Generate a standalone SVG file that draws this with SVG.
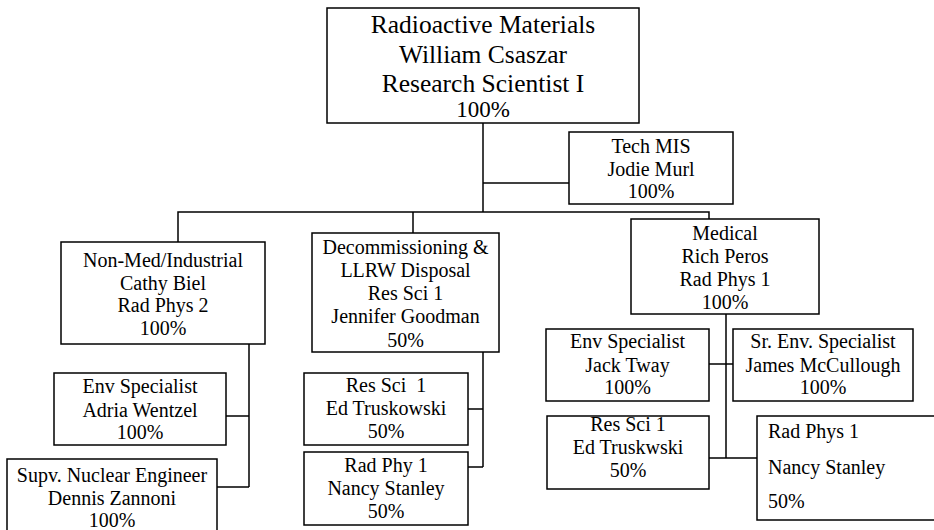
<svg xmlns="http://www.w3.org/2000/svg" width="934" height="530" viewBox="0 0 934 530">
<style>
.box{fill:#fff;stroke:#000;stroke-width:1.5}
.ln{fill:none;stroke:#000;stroke-width:1.5}
text{font-family:"Liberation Serif","Times New Roman",serif;font-size:20px;fill:#000;text-anchor:middle}
.big{font-size:25.5px}
.l{text-anchor:start}
</style>
<rect width="934" height="530" fill="#fff"/>
<g id="connectors" class="ln">
<path d="M483,123V212"/>
<path d="M483,183H569"/>
<path d="M178,242V212H709V219"/>
<path d="M413,212V233"/>
<path d="M249,344V487M226,416H249M217,487H249"/>
<path d="M483,352V467M468,409H483M468,467H483"/>
<path d="M726,314V458M709,364H733M709,458H757"/>
</g>
<g id="n-top">
<rect class="box" x="327" y="8" width="312" height="115"/>
<text class="big" x="483" y="33">Radioactive Materials</text>
<text class="big" x="483" y="63">William Csaszar</text>
<text class="big" x="483" y="92">Research Scientist I</text>
<text x="483" y="117" style="font-size:23px">100%</text>
</g>
<g id="n-techmis">
<rect class="box" x="569" y="132" width="164" height="72"/>
<text x="651" y="153">Tech MIS</text>
<text x="651" y="176">Jodie Murl</text>
<text x="651" y="198">100%</text>
</g>
<g id="n-nonmed">
<rect class="box" x="61" y="242" width="204" height="102"/>
<text x="163" y="267">Non-Med/Industrial</text>
<text x="163" y="290">Cathy Biel</text>
<text x="163" y="312">Rad Phys 2</text>
<text x="163" y="335">100%</text>
</g>
<g id="n-adria">
<rect class="box" x="54" y="373" width="172" height="72"/>
<text x="140" y="393">Env Specialist</text>
<text x="140" y="417">Adria Wentzel</text>
<text x="140" y="439">100%</text>
</g>
<g id="n-dennis">
<rect class="box" x="7" y="459" width="210" height="80"/>
<text x="112" y="482">Supv. Nuclear Engineer</text>
<text x="112" y="505">Dennis Zannoni</text>
<text x="112" y="527">100%</text>
</g>
<g id="n-decomm">
<rect class="box" x="312" y="233" width="187" height="119"/>
<text x="405.5" y="254">Decommissioning &amp;</text>
<text x="405.5" y="277">LLRW Disposal</text>
<text x="405.5" y="300">Res Sci 1</text>
<text x="405.5" y="323">Jennifer Goodman</text>
<text x="405.5" y="347">50%</text>
</g>
<g id="n-edtruskowski">
<rect class="box" x="304" y="373" width="164" height="72"/>
<text x="386" y="392" style="white-space:pre">Res Sci  1</text>
<text x="386" y="415">Ed Truskowski</text>
<text x="386" y="438">50%</text>
</g>
<g id="n-nancy1">
<rect class="box" x="304" y="452" width="164" height="73"/>
<text x="386" y="472">Rad Phy 1</text>
<text x="386" y="495">Nancy Stanley</text>
<text x="386" y="518">50%</text>
</g>
<g id="n-medical">
<rect class="box" x="631" y="219" width="188" height="95"/>
<text x="725" y="240">Medical</text>
<text x="725" y="263">Rich Peros</text>
<text x="725" y="286">Rad Phys 1</text>
<text x="725" y="309">100%</text>
</g>
<g id="n-jack">
<rect class="box" x="546" y="329" width="163" height="72"/>
<text x="627.5" y="348">Env Specialist</text>
<text x="627.5" y="372">Jack Tway</text>
<text x="627.5" y="394">100%</text>
</g>
<g id="n-james">
<rect class="box" x="733" y="329" width="180" height="72"/>
<text x="823" y="348">Sr. Env. Specialist</text>
<text x="823" y="372">James McCullough</text>
<text x="823" y="394">100%</text>
</g>
<g id="n-edtruskwski">
<rect class="box" x="547" y="416" width="162" height="73"/>
<text x="628" y="431">Res Sci 1</text>
<text x="628" y="454">Ed Truskwski</text>
<text x="628" y="477">50%</text>
</g>
<g id="n-nancy2">
<rect class="box" x="757" y="416" width="180" height="104"/>
<text class="l" x="768" y="438">Rad Phys 1</text>
<text class="l" x="768" y="474">Nancy Stanley</text>
<text class="l" x="768" y="508">50%</text>
</g>
</svg>
